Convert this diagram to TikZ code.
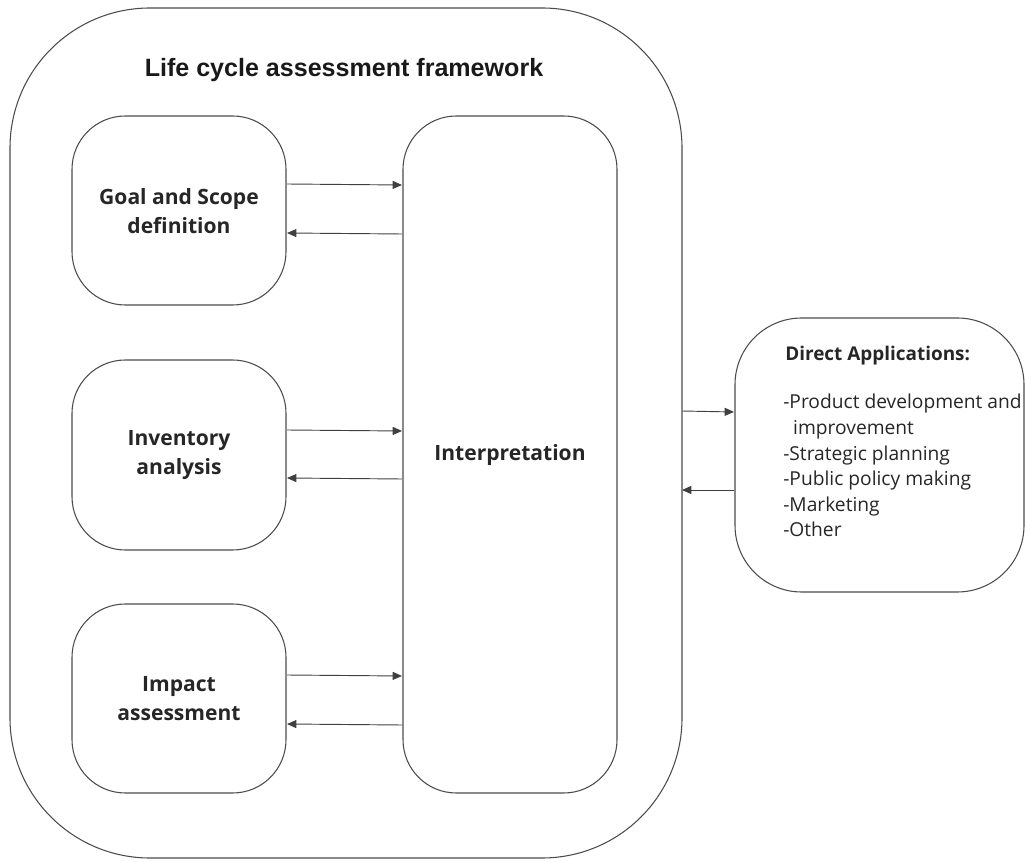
\documentclass[tikz,border=0pt]{standalone}
\usepackage{fontspec}
\setmainfont{Open Sans}
\newfontfamily\titlefont{Liberation Sans}
\usetikzlibrary{arrows.meta}
\begin{document}
\begin{tikzpicture}[x=0.75pt,y=-0.75pt,
  box/.style={draw=black!70, line width=0.8pt},
  lbl/.style={font=\bfseries\fontsize{15.8}{21.8}\selectfont, align=center, text=black!85},
  item/.style={anchor=base west, inner sep=0pt, text=black!85, font=\fontsize{14.4}{19}\selectfont},
  arr/.style={draw=black!75, line width=0.7pt, -{Triangle[length=7pt,width=6pt]}}]
\useasboundingbox (0,0) rectangle (1025,862);
% outer frame
\draw[box] (10,8) [rounded corners=105] rectangle (682,858);
\node[font=\titlefont\bfseries\fontsize{18.8}{22}\selectfont, text=black!90] (title) at (344,70) {Life cycle assessment framework};
% boxes
\draw[box, rounded corners=40] (72,116) rectangle (286,305);
\draw[box, rounded corners=40] (72,360) rectangle (286,550);
\draw[box, rounded corners=40] (72,604) rectangle (286,793);
\draw[box, rounded corners=40] (403,116) rectangle (617,793);
\draw[box, rounded corners=50] (735,318) rectangle (1024,592);
\node[lbl] (goal) at (179,211) {Goal and Scope\\definition};
\node[lbl] (inv) at (179,455) {Inventory\\analysis};
\node[lbl] (imp) at (179,699) {Impact\\assessment};
\node[lbl] (interp) at (510,455) {Interpretation};
\node[item, font=\bfseries\fontsize{14.2}{19}\selectfont] (head) at (785,361) {Direct Applications:};
\node[item] (l1) at (783,409) {-Product development and};
\node[item] (l2) at (783,435) {\ \ improvement};
\node[item] (l3) at (783,461) {-Strategic planning};
\node[item] (l4) at (783,486) {-Public policy making};
\node[item] (l5) at (783,512) {-Marketing};
\node[item] (l6) at (783,537) {-Other};
% arrows
\coordinate (a1s) at (287,184); \coordinate (a1e) at (402,185);
\coordinate (b1s) at (402,234); \coordinate (b1e) at (287,233);
\coordinate (a2s) at (287,430); \coordinate (a2e) at (402,431);
\coordinate (b2s) at (402,479); \coordinate (b2e) at (287,478);
\coordinate (a3s) at (287,675); \coordinate (a3e) at (402,676);
\coordinate (b3s) at (402,725); \coordinate (b3e) at (287,724);
\coordinate (a4s) at (682,411); \coordinate (a4e) at (734,412);
\coordinate (b4s) at (734,490); \coordinate (b4e) at (682,490);
\foreach \i in {1,2,3,4}{
  \draw[arr] (a\i s) -- (a\i e);
  \draw[arr] (b\i s) -- (b\i e);
}
\end{tikzpicture}
\end{document}
